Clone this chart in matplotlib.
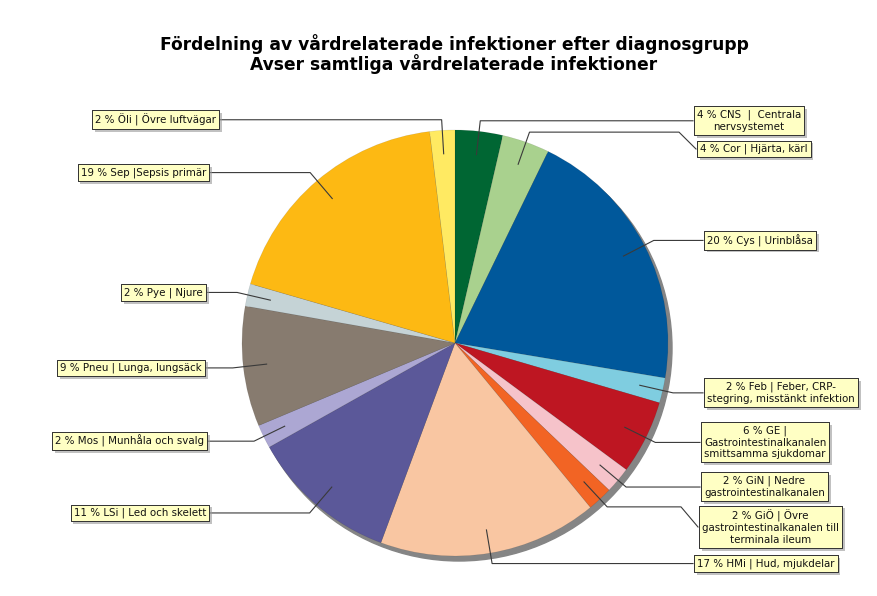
import numpy as np
import matplotlib
matplotlib.use("Agg")
import matplotlib.pyplot as plt
from matplotlib import patheffects
from matplotlib.patches import Circle

# Share of infections per diagnosis group (percent), clockwise from 12 o'clock
codes = ["CNS", "Cor", "Cys", "Feb", "GE", "GiN", "GiÖ",
         "HMi", "LSi", "Mos", "Pneu", "Pye", "Sep", "Öli"]
shares = [3.6, 3.6, 20.4, 1.9, 5.6, 2.0, 1.9,
          16.6, 11.2, 1.8, 9.1, 1.7, 18.6, 1.9]
labels = [
    "4 % CNS  |  Centrala\nnervsystemet",
    "4 % Cor | Hjärta, kärl",
    "20 % Cys | Urinblåsa",
    "2 % Feb | Feber, CRP-\nstegring, misstänkt infektion",
    "6 % GE |\nGastrointestinalkanalen\nsmittsamma sjukdomar",
    "2 % GiN | Nedre\ngastrointestinalkanalen",
    "2 % GiÖ | Övre\ngastrointestinalkanalen till\nterminala ileum",
    "17 % HMi | Hud, mjukdelar",
    "11 % LSi | Led och skelett",
    "2 % Mos | Munhåla och svalg",
    "9 % Pneu | Lunga, lungsäck",
    "2 % Pye | Njure",
    "19 % Sep |Sepsis primär",
    "2 % Öli | Övre luftvägar",
]
colors = ["#006633", "#A9D18E", "#00589B", "#7FCDE0", "#BE1622", "#F6C3CA",
          "#F26424", "#F9C6A2", "#5B5899", "#ACA7D3", "#877B6F", "#C5D3D6",
          "#FDB913", "#FFEA62"]

# label box placement in pixels: box edge x (left edge on right side,
# right edge on left side); box centre y from top, None = on the link line
box_x = [693, 696, 703, 703, 700, 700, 698, 693, 210, 208, 206, 207, 210, 220]
box_y = [None, 149, None, None, None, None, 527, None,
         None, None, None, None, None, None]

W, H = 878, 596
CX, CY, R = 455, H - 343, 213

fig = plt.figure(figsize=(W / 100, H / 100), dpi=100)
ax = fig.add_axes([0, 0, 1, 1])

# drop shadow under the pie
ax.add_patch(Circle((CX + 4, CY - 5), R, color="#858585", zorder=0))

wedges, _ = ax.pie(shares, colors=colors, startangle=90, counterclock=False,
                   center=(CX, CY), radius=R,
                   wedgeprops=dict(linewidth=0.4, edgecolor=(0, 0, 0, 0.12)))

fig.text(454 / W, 1 - 44 / H, "Fördelning av vårdrelaterade infektioner efter diagnosgrupp",
         ha="center", va="center", fontsize=12.3, fontweight="bold")
fig.text(454 / W, 1 - 64 / H, "Avser samtliga vårdrelaterade infektioner",
         ha="center", va="center", fontsize=12.3, fontweight="bold")

for w, lab, bx, by in zip(wedges, labels, box_x, box_y):
    mid = np.deg2rad((w.theta1 + w.theta2) / 2)
    ax_, ay_ = CX + 0.89 * R * np.cos(mid), CY + 0.89 * R * np.sin(mid)
    ex, ey = CX + 1.05 * R * np.cos(mid), CY + 1.05 * R * np.sin(mid)
    by_d = ey if by is None else H - by
    right = np.cos(mid) > 0
    kx = bx - 17 if right else bx + 17
    ax.plot([ax_, ex, kx, bx], [ay_, ey, ey, by_d], color="#3a3a3a",
            lw=0.8, zorder=3)
    tx = bx + 4 if right else bx - 4
    t = ax.text(tx, by_d, lab, ha="left" if right else "right", va="center",
                multialignment="center", fontsize=7.4, color="#111111", zorder=5,
                bbox=dict(boxstyle="square,pad=0.3", fc="#FFFFC4",
                          ec="#333333", lw=0.7))
    t.get_bbox_patch().set_path_effects(
        [patheffects.withSimplePatchShadow(offset=(2, -2),
                                           shadow_rgbFace="#999999", alpha=0.6),
         patheffects.Normal()])

ax.set_xlim(0, W)
ax.set_ylim(0, H)
ax.set_aspect("auto")
ax.axis("off")

fig.savefig("out.png", dpi=100)
